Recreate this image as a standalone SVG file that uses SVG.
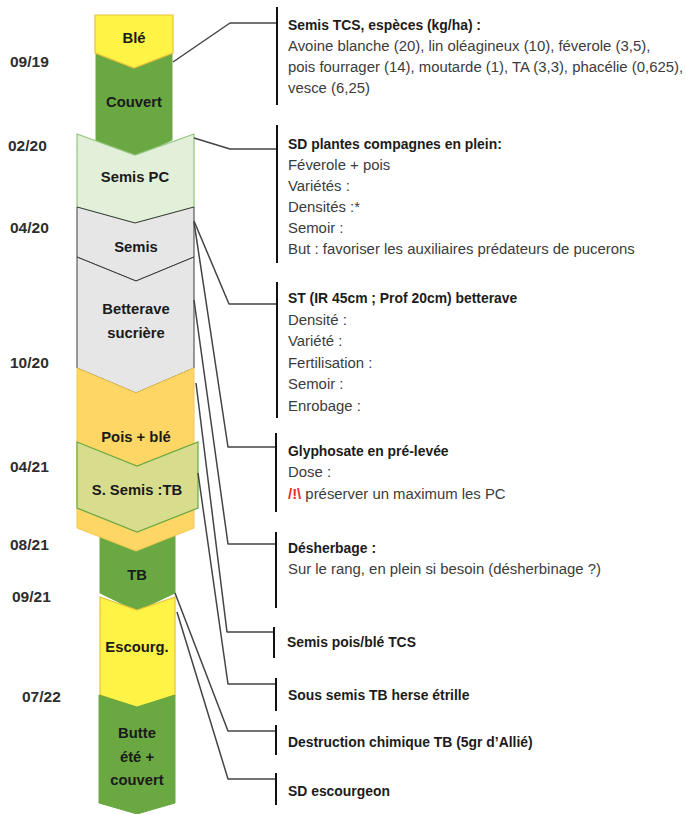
<svg xmlns="http://www.w3.org/2000/svg" width="686" height="814" viewBox="0 0 686 814">
  <style>
    text { font-family: "Liberation Sans", Arial, sans-serif; }
    .date { font-size: 15.5px; font-weight: bold; fill: #2e2e2e; }
    .lbl { font-size: 14.8px; font-weight: bold; fill: #1a1a1a; text-anchor: middle; }
    .ttl { font-size: 13.9px; font-weight: bold; fill: #1c1c1c; }
    .txt { font-size: 14.9px; fill: #3c3c3c; }
    .warn { fill: #e8302a; font-weight: bold; }
    .bar { stroke: #111; stroke-width: 2; fill: none; }
    .con { stroke: #444; stroke-width: 1.5; fill: none; stroke-linejoin: round; }
    .green { fill: #6aa842; stroke: #6aa842; stroke-width: 1; }
    .yellow { fill: #fff345; stroke: #e8c13a; stroke-width: 1.2; }
    .grey { fill: #e6e6e6; stroke: #3a3a3a; stroke-width: 1; }
  </style>

  <!-- dates -->
  <g id="dates">
    <text class="date" x="10" y="67">09/19</text>
    <text class="date" x="8" y="151">02/20</text>
    <text class="date" x="10" y="233">04/20</text>
    <text class="date" x="10" y="368">10/20</text>
    <text class="date" x="10" y="472">04/21</text>
    <text class="date" x="10" y="550">08/21</text>
    <text class="date" x="12" y="602">09/21</text>
    <text class="date" x="22" y="702">07/22</text>
  </g>

  <!-- crop sequence -->
  <g id="couvert">
    <path class="green" d="M96,53 L134,68 L172,53 L172,140 L134,157 L96,140 Z"/>
    <text class="lbl" x="134" y="107">Couvert</text>
  </g>
  <g id="ble">
    <path class="yellow" d="M95,15 H173 V53 L134,68 L95,53 Z"/>
    <text class="lbl" x="134" y="43">Blé</text>
  </g>
  <g id="semis-pc">
    <path d="M77,134 L135,155 L194,134 L194,207 L135,223 L77,207 Z" fill="#e2efd9" stroke="#93c47d" stroke-width="1.2"/>
    <text class="lbl" x="135" y="182">Semis PC</text>
  </g>
  <g id="semis">
    <path class="grey" d="M77,207 L135,223 L194,207 L194,257 L136,281 L77,257 Z"/>
    <text class="lbl" x="136" y="252">Semis</text>
  </g>
  <g id="betterave">
    <path class="grey" d="M77,257 L136,281 L194,257 L194,368 L136,393 L77,368 Z"/>
    <text class="lbl" x="136" y="314">Betterave</text>
    <text class="lbl" x="136" y="338">sucrière</text>
  </g>
  <g id="tb">
    <path class="green" d="M100,530 L137,550 L175,530 L175,593 L137,611 L100,593 Z"/>
    <text class="lbl" x="137" y="580">TB</text>
  </g>
  <g id="pois-ble">
    <path d="M77,368 L136,393 L194,368 L194,528 L136,551 L77,528 Z" fill="#fdd665" stroke="#f3c94f" stroke-width="1"/>
    <text class="lbl" x="136" y="442">Pois + blé</text>
  </g>
  <g id="sous-semis-tb">
    <path d="M77,442 L137,466 L198,442 L198,508 L137,532 L77,508 Z" fill="#d8dd8e" stroke="#6aa842" stroke-width="1.2"/>
    <text class="lbl" x="137" y="495">S. Semis :TB</text>
  </g>
  <g id="escourgeon">
    <path class="yellow" d="M100,597 L137,610 L175,597 L175,695 L137,708 L100,695 Z"/>
    <text class="lbl" x="137" y="652">Escourg.</text>
  </g>
  <g id="butte">
    <path class="green" d="M99,695 L137,707 L175,695 L175,803 L137,814 L99,803 Z"/>
    <text class="lbl" x="137" y="738">Butte</text>
    <text class="lbl" x="137" y="762">été +</text>
    <text class="lbl" x="137" y="785">couvert</text>
  </g>

  <!-- leader lines -->
  <g id="connectors">
    <path class="con" d="M173,62 L230,23 H277"/>
    <path class="con" d="M194,138 L230,149 H277"/>
    <path class="con" d="M194,221 L229,304 H277"/>
    <path class="con" d="M194,222 L228,447 H276"/>
    <path class="con" d="M194,300 L228,544 H276"/>
    <path class="con" d="M196,383 L227,632 H274"/>
    <path class="con" d="M198,473 L228,684 H276"/>
    <path class="con" d="M175,593 L228,731 H276"/>
    <path class="con" d="M177,612 L228,779 H276"/>
  </g>

  <!-- annotations -->
  <g id="note-semis-tcs">
    <line class="bar" x1="277" y1="7" x2="277" y2="105"/>
    <text class="ttl" x="288" y="30">Semis TCS, espèces (kg/ha) :</text>
    <text class="txt" x="288" y="51">Avoine blanche (20), lin oléagineux (10), féverole (3,5),</text>
    <text class="txt" x="288" y="72">pois fourrager (14), moutarde (1), TA (3,3), phacélie (0,625),</text>
    <text class="txt" x="288" y="93">vesce (6,25)</text>
  </g>
  <g id="note-sd-pc">
    <line class="bar" x1="277" y1="125" x2="277" y2="263"/>
    <text class="ttl" x="288" y="149">SD plantes compagnes en plein:</text>
    <text class="txt" x="288" y="170">Féverole + pois</text>
    <text class="txt" x="288" y="191">Variétés :</text>
    <text class="txt" x="288" y="212">Densités :*</text>
    <text class="txt" x="288" y="233">Semoir :</text>
    <text class="txt" x="288" y="254">But : favoriser les auxiliaires prédateurs de pucerons</text>
  </g>
  <g id="note-st">
    <line class="bar" x1="277" y1="282" x2="277" y2="418"/>
    <text class="ttl" x="288" y="303">ST (IR 45cm ; Prof 20cm) betterave</text>
    <text class="txt" x="288" y="325">Densité :</text>
    <text class="txt" x="288" y="346">Variété :</text>
    <text class="txt" x="288" y="368">Fertilisation :</text>
    <text class="txt" x="288" y="389">Semoir :</text>
    <text class="txt" x="288" y="411">Enrobage :</text>
  </g>
  <g id="note-glyphosate">
    <line class="bar" x1="276" y1="433" x2="276" y2="512"/>
    <text class="ttl" x="288" y="456">Glyphosate en pré-levée</text>
    <text class="txt" x="288" y="477">Dose :</text>
    <text class="txt" x="288" y="499"><tspan class="warn">/!\</tspan> préserver un maximum les PC</text>
  </g>
  <g id="note-desherbage">
    <line class="bar" x1="276" y1="532" x2="276" y2="608"/>
    <text class="ttl" x="288" y="553">Désherbage :</text>
    <text class="txt" x="288" y="574">Sur le rang, en plein si besoin (désherbinage ?)</text>
  </g>
  <g id="note-semis-pois-ble">
    <line class="bar" x1="274" y1="627" x2="274" y2="658"/>
    <text class="ttl" x="287" y="647">Semis pois/blé TCS</text>
  </g>
  <g id="note-sous-semis">
    <line class="bar" x1="276" y1="678" x2="276" y2="711"/>
    <text class="ttl" x="288" y="700">Sous semis TB herse étrille</text>
  </g>
  <g id="note-destruction">
    <line class="bar" x1="276" y1="725" x2="276" y2="755"/>
    <text class="ttl" x="288" y="747">Destruction chimique TB (5gr d’Allié)</text>
  </g>
  <g id="note-sd-escourgeon">
    <line class="bar" x1="276" y1="773" x2="276" y2="805"/>
    <text class="ttl" x="288" y="796">SD escourgeon</text>
  </g>
</svg>
